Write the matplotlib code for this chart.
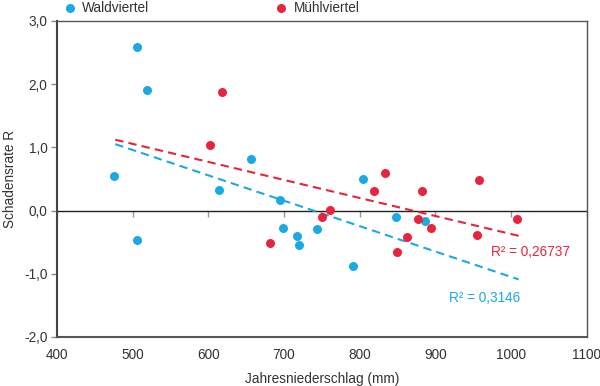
import matplotlib.pyplot as plt
import numpy as np

plt.rcParams["font.family"] = ["Liberation Sans", "DejaVu Sans"]

BLUE = "#1aa9e1"
RED = "#e8243c"
TEXT = "#333333"

# Waldviertel
wald_x = [475, 506, 519, 506, 614, 656, 695, 698, 717, 720, 743, 791, 804, 848, 886]
wald_y = [0.54, 2.59, 1.91, -0.47, 0.33, 0.82, 0.16, -0.27, -0.41, -0.54, -0.30, -0.87, 0.50, -0.10, -0.16]

# Muehlviertel
muehl_x = [602, 618, 681, 750, 761, 819, 833, 849, 862, 877, 882, 894, 955, 957, 1008]
muehl_y = [1.03, 1.88, -0.51, -0.10, 0.01, 0.31, 0.59, -0.65, -0.42, -0.14, 0.31, -0.27, -0.39, 0.48, -0.14]

# Trendlinien
trend_range = [477, 1010]
wald_fit = (-0.004015, 2.965)
muehl_fit = (-0.002852, 2.48)
wald_r2 = "R² = 0,3146"
muehl_r2 = "R² = 0,26737"

xticks = [400, 500, 600, 700, 800, 900, 1000, 1100]
yticks = [-2, -1, 0, 1, 2, 3]

fig = plt.figure(figsize=(6, 3.86), dpi=100)
ax = fig.add_axes([0.095, 0.127, 0.883, 0.819])

ax.scatter(wald_x, wald_y, s=42, color=BLUE, zorder=3, label="Waldviertel", linewidths=0)
ax.scatter(muehl_x, muehl_y, s=42, color=RED, zorder=3, label="Mühlviertel", linewidths=0)

xs = np.array(trend_range)
ax.plot(xs, np.polyval(wald_fit, xs), color=BLUE, lw=1.5, ls=(0, (4, 2.5)), zorder=2)
ax.plot(xs, np.polyval(muehl_fit, xs), color=RED, lw=1.5, ls=(0, (4, 2.5)), zorder=2)

ax.text(973, -0.65, muehl_r2, color=RED, fontsize=9.8, va="center")
ax.text(918, -1.38, wald_r2, color=BLUE, fontsize=9.8, va="center")

ax.axhline(0, color="#222222", lw=1.0, zorder=1)

ax.set_xlim(400, 1100)
ax.set_ylim(-2, 3)
ax.set_xticks(xticks)
ax.set_yticks(yticks)
ax.set_yticklabels([f"{v:.1f}".replace(".", ",") for v in yticks])
ax.tick_params(axis="x", length=0, pad=8, labelsize=9.8, labelcolor=TEXT)
ax.tick_params(axis="y", length=4, width=1, color="#888888", pad=3, labelsize=9.8, labelcolor=TEXT)

# Ticks auf der Nulllinie
sec = ax.secondary_xaxis(0.4)
sec.set_xticks(xticks)
sec.tick_params(axis="x", length=4, width=1, color="#999999", labelbottom=False)
sec.spines["bottom"].set_visible(False)

for side in ["top", "right", "bottom"]:
    ax.spines[side].set_color("#555555")
    ax.spines[side].set_linewidth(1.0)
ax.spines["left"].set_color("#444444")
ax.spines["left"].set_linewidth(1.5)
ax.spines["bottom"].set_linewidth(1.5)

ax.set_xlabel("Jahresniederschlag (mm)", fontsize=9.8, color=TEXT, labelpad=7)
ax.set_ylabel("Schadensrate R", fontsize=9.8, color=TEXT, labelpad=5)

fig.legend(loc="upper left", bbox_to_anchor=(0.085, 1.03), ncol=2, frameon=False,
           fontsize=9.8, handletextpad=0.4, columnspacing=9.2, markerscale=1.0,
           labelcolor=TEXT, handlelength=1.0)

fig.savefig("out.png", dpi=100)
